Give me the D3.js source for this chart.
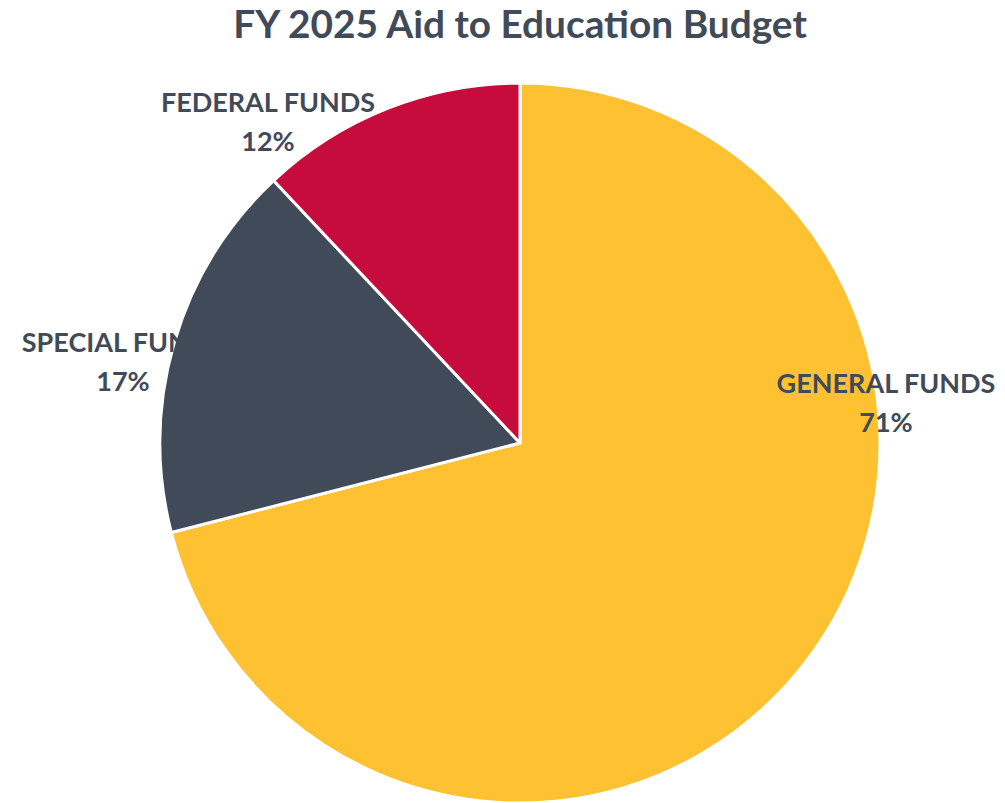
<!DOCTYPE html>
<html>
<head>
<meta charset="utf-8">
<script src="https://cdn.jsdelivr.net/npm/d3@7"></script>
<style>
  html, body { margin: 0; padding: 0; background: #fff; }
  svg text { font-family: Lato, "Open Sans", sans-serif; font-weight: bold; fill: #414A59; }
</style>
</head>
<body>
<div id="chart"></div>
<script>
// chart values
var categories = ['GENERAL FUNDS', 'SPECIAL FUNDS', 'FEDERAL FUNDS'];
var shares = [71, 17, 12];
var sliceColors = ['#FDC131', '#414A59', '#C60C3C'];
var chartTitle = 'FY 2025 Aid to Education Budget';

var data = categories.map((c, i) => ({ group: c, cnt: shares[i] }));

var svgWidth = 1005, svgHeight = 803;
var cx = 520, cy = 443, radius = 360;

var svg = d3.select('#chart').append('svg')
    .attr('width', svgWidth)
    .attr('height', svgHeight);

svg.append('text')
    .attr('x', 520)
    .attr('y', 38)
    .attr('text-anchor', 'middle')
    .style('font-size', '38.8px')
    .text(chartTitle);

var color = d3.scaleOrdinal().domain(categories).range(sliceColors);

var pie = d3.pie()
    .value(d => d.cnt)
    .sort(null);

var arc = d3.arc()
    .innerRadius(0)
    .outerRadius(radius);

var arcs = pie(data);

var chartGroup = svg.append('g')
    .attr('transform', `translate(${cx},${cy})`);

chartGroup.selectAll('path')
    .data(arcs)
    .enter().append('path')
    .attr('d', arc)
    .attr('fill', d => color(d.data.group))
    .attr('stroke', '#fff')
    .attr('stroke-width', 3)
    .attr('stroke-linejoin', 'round');

// label centres relative to the pie centre (same colour as the special slice,
// so that label vanishes where it runs over it)
var labelOffsets = {
    'GENERAL FUNDS': [ 366, -50 ],
    'SPECIAL FUNDS': [ -397, -91 ],
    'FEDERAL FUNDS': [ -252, -331 ]
};

var labels = chartGroup.selectAll('.lbl')
    .data(arcs)
    .enter().append('text')
    .attr('class', 'lbl')
    .attr('text-anchor', 'middle')
    .attr('transform', d => `translate(${labelOffsets[d.data.group]})`)
    .style('font-size', '27px');

labels.append('tspan')
    .attr('x', 0)
    .attr('dy', 0)
    .text(d => d.data.group);

labels.append('tspan')
    .attr('x', 0)
    .attr('dy', 39)
    .text(d => d.data.cnt + '%');
</script>
</body>
</html>
